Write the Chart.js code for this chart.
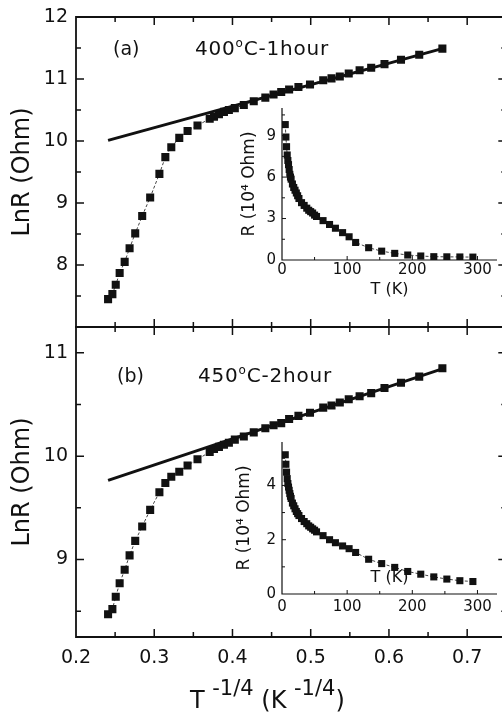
<!DOCTYPE html>
<html><head><meta charset="utf-8">
<script src="https://cdn.jsdelivr.net/npm/chart.js@4.4.1/dist/chart.umd.min.js"></script>
<style>
html,body{margin:0;padding:0;width:502px;height:713px;overflow:hidden;background:#fff;}
canvas{position:absolute;}
.lbl{position:absolute;font-family:'DejaVu Sans';color:#111;white-space:nowrap;}
.sup{position:relative;}
</style></head><body>
<canvas id="mainA" width="512" height="340" style="left:0px;top:0px"></canvas>
<canvas id="mainB" width="512" height="393" style="left:0px;top:320px"></canvas>
<canvas id="insetA" width="274" height="210" style="left:228px;top:95px"></canvas>
<canvas id="insetB" width="274" height="210" style="left:228px;top:425px"></canvas>

<div class="lbl" style="left:113px;top:39px;font-size:19px;line-height:19px">(a)</div>
<div class="lbl" style="left:195px;top:38px;font-size:20px;line-height:20px;letter-spacing:0.8px">400<span class="sup" style="font-size:12px;top:-8px">o</span>C-1hour</div>
<div class="lbl" style="left:117px;top:366px;font-size:19px;line-height:19px">(b)</div>
<div class="lbl" style="left:198px;top:365px;font-size:20px;line-height:20px;letter-spacing:0.8px">450<span class="sup" style="font-size:12px;top:-8px">o</span>C-2hour</div>
<div class="lbl" style="left:190px;top:688px;font-size:24px;line-height:24px">T&nbsp;<span class="sup" style="font-size:21px;top:-13px">-1/4</span> (K <span class="sup" style="font-size:21px;top:-13px">-1/4</span>)</div>

<script>
// ---------- data ----------
const invT = [0.241,0.2465,0.2508,0.2558,0.2622,0.2685,0.2757,0.2846,0.2948,0.3066,0.3142,0.3218,0.332,0.3426,0.3553,0.3709,0.3764,0.3827,0.3891,0.3954,0.403,0.4145,0.4272,0.442,0.4525,0.4623,0.4724,0.4843,0.4991,0.516,0.5266,0.5372,0.5486,0.5625,0.5773,0.5943,0.6154,0.6387,0.6683];
const lnRA = [7.45,7.53,7.68,7.87,8.05,8.27,8.51,8.79,9.09,9.47,9.74,9.90,10.05,10.16,10.25,10.36,10.39,10.43,10.47,10.50,10.53,10.58,10.64,10.70,10.75,10.79,10.83,10.87,10.91,10.98,11.01,11.04,11.09,11.14,11.18,11.24,11.31,11.39,11.49];
const lnRB = [8.47,8.52,8.64,8.77,8.90,9.04,9.18,9.32,9.48,9.65,9.74,9.80,9.85,9.91,9.97,10.04,10.07,10.09,10.11,10.13,10.16,10.19,10.23,10.27,10.30,10.32,10.36,10.39,10.42,10.47,10.49,10.52,10.55,10.58,10.61,10.66,10.71,10.77,10.85];
const fitAX = [0.241, 0.668];
const fitAY = [10.01, 11.49];
const fitBX = [0.241, 0.668];
const fitBY = [9.765, 10.845];

const tempK = [5,6,7,8,9,10,11,12,13,14,16,18,20,22,24,26,30,34,38,41,44,47,50,53,63,73,82,93,103,113,133,153,173,193,213,233,253,273,293];
const resA = [9.8,8.9,8.2,7.6,7.2,6.9,6.55,6.2,6.0,5.85,5.5,5.25,5.05,4.85,4.65,4.45,4.15,3.95,3.75,3.6,3.5,3.4,3.25,3.15,2.85,2.57,2.3,1.98,1.68,1.27,0.89,0.64,0.48,0.36,0.29,0.24,0.23,0.22,0.21];
const resB = [5.13,4.78,4.49,4.25,4.07,3.94,3.82,3.70,3.60,3.52,3.35,3.25,3.14,3.04,2.96,2.89,2.78,2.67,2.59,2.51,2.46,2.40,2.35,2.29,2.15,2.0,1.89,1.77,1.67,1.53,1.28,1.12,0.98,0.83,0.73,0.63,0.55,0.49,0.46];

const mainXTicks = [0.2,0.25,0.3,0.35,0.4,0.45,0.5,0.55,0.6,0.65,0.7,0.75];
const mainAYTicks = [7,7.5,8,8.5,9,9.5,10,10.5,11,11.5,12];
const mainBYTicks = [8.5,9,9.5,10,10.5,11];
const insetXTicks = [0,50,100,150,200,250,300];
const insetAYTicks = [0,1.5,3,4.5,6,7.5,9,10.5];
const insetBYTicks = [0,1,2,3,4,5];

// ---------- helpers ----------
const FAM = 'DejaVu Sans';
const INK = '#111';
Chart.defaults.font.family = FAM;
Chart.defaults.color = INK;

const frameTicks = {
  id: 'frameTicks',
  afterDatasetsDraw(chart, args, o) {
    const {ctx, chartArea: a} = chart;
    const xs = chart.scales.x, ys = chart.scales.y;
    ctx.save();
    ctx.strokeStyle = INK;
    ctx.lineWidth = o.axisWidth;
    ctx.beginPath();
    if (o.box) ctx.rect(a.left, a.top, a.right - a.left, a.bottom - a.top);
    else { ctx.moveTo(a.left, a.top); ctx.lineTo(a.left, a.bottom); ctx.lineTo(a.right, a.bottom); }
    ctx.stroke();
    ctx.lineWidth = o.tickWidth;
    ctx.beginPath();
    xs.ticks.forEach(t => {
      const p = xs.getPixelForValue(t.value);
      if (p <= a.left + 0.5 || p >= a.right - 0.5) return;
      const L = o.xMajor(t.value) ? o.major : o.minor;
      ctx.moveTo(p, a.bottom); ctx.lineTo(p, a.bottom - L);
      if (o.box) { ctx.moveTo(p, a.top); ctx.lineTo(p, a.top + L); }
    });
    ys.ticks.forEach(t => {
      const p = ys.getPixelForValue(t.value);
      if (p <= a.top + 0.5 || p >= a.bottom - 0.5) return;
      const L = o.yMajor(t.value) ? o.major : o.minor;
      ctx.moveTo(a.left, p); ctx.lineTo(a.left + L, p);
      if (o.box) { ctx.moveTo(a.right, p); ctx.lineTo(a.right - L, p); }
    });
    ctx.stroke();
    ctx.restore();
  }
};

const pts = (xs, ys) => xs.map((x, i) => ({x, y: ys[i]}));
const isMult = (v, m) => Math.abs(v / m - Math.round(v / m)) < 1e-6;

function mainChart(id, yVals, fitX, fitY, yMin, yMax, yTicks, showX, padTop, xH) {
  return new Chart(document.getElementById(id), {
    type: 'scatter',
    data: { datasets: [
      { data: pts(fitX, fitY), showLine: true, borderColor: INK, borderWidth: 3, pointRadius: 0 },
      { data: pts(invT, yVals), showLine: true, borderColor: '#444', borderWidth: 1, borderDash: [3, 2],
        pointStyle: 'rect', pointRadius: 5.7, pointHoverRadius: 5.7, pointBackgroundColor: INK, pointBorderWidth: 0 }
    ]},
    options: {
      responsive: false, animation: false, devicePixelRatio: 1, events: [],
      layout: { padding: { left: 0, top: padTop, right: 3, bottom: 0 } },
      plugins: { legend: { display: false }, tooltip: { enabled: false },
        frameTicks: { box: true, axisWidth: 1.8, tickWidth: 1.5, major: 8, minor: 5,
          xMajor: v => isMult(v, 0.1), yMajor: v => Number.isInteger(v) } },
      scales: {
        x: { type: 'linear', min: 0.2, max: 0.75,
          grid: { display: false, drawTicks: false }, border: { display: false },
          afterBuildTicks: s => { s.ticks = mainXTicks.map(v => ({value: v})); },
          afterFit: s => { s.height = xH; s.paddingLeft = 0; s.paddingRight = 0; },
          ticks: { display: showX, autoSkip: false, maxRotation: 0, padding: 10, color: INK,
            font: { size: 19 }, callback: v => (isMult(v, 0.1) && v < 0.72) ? v.toFixed(1) : '' } },
        y: { type: 'linear', min: yMin, max: yMax,
          grid: { display: false, drawTicks: false }, border: { display: false },
          afterBuildTicks: s => { s.ticks = yTicks.map(v => ({value: v})); },
          afterFit: s => { s.width = 76; s.paddingTop = 0; s.paddingBottom = 0; },
          ticks: { autoSkip: false, padding: 8, color: INK, font: { size: 19 },
            callback: v => (Number.isInteger(v) && v !== 7) ? String(v) : '' },
          title: { display: true, text: 'LnR (Ohm)', color: INK, font: { size: 24 }, padding: { top: 8.6, bottom: 0 } } }
      }
    },
    plugins: [frameTicks]
  });
}

function insetChart(id, yVals, yMax, yTicks, yLabStep, padTop, xH, xPad, tPadBottom, yTitlePad) {
  return new Chart(document.getElementById(id), {
    type: 'scatter',
    data: { datasets: [
      { data: pts(tempK, yVals), showLine: true, borderColor: '#444', borderWidth: 1, borderDash: [3, 2],
        pointStyle: 'rect', pointRadius: 5, pointHoverRadius: 5, pointBackgroundColor: INK, pointBorderWidth: 0 }
    ]},
    options: {
      responsive: false, animation: false, devicePixelRatio: 1, events: [],
      layout: { padding: { left: 0, top: padTop, right: 2, bottom: 0 } },
      plugins: { legend: { display: false }, tooltip: { enabled: false },
        frameTicks: { box: false, axisWidth: 1.2, tickWidth: 1, major: 4, minor: 3,
          xMajor: v => isMult(v, 100), yMajor: v => isMult(v, yLabStep) } },
      scales: {
        x: { type: 'linear', min: 0, max: 330,
          grid: { display: false, drawTicks: false }, border: { display: false },
          afterBuildTicks: s => { s.ticks = insetXTicks.map(v => ({value: v})); },
          afterFit: s => { s.height = xH; s.paddingLeft = 0; s.paddingRight = 0; },
          ticks: { autoSkip: false, maxRotation: 0, padding: xPad, color: INK, font: { size: 15 },
            callback: v => isMult(v, 100) ? String(v) : '' },
          title: { display: true, text: 'T (K)', color: INK, font: { size: 16 }, padding: { top: 0, bottom: tPadBottom } } },
        y: { type: 'linear', min: 0, max: yMax,
          grid: { display: false, drawTicks: false }, border: { display: false },
          afterBuildTicks: s => { s.ticks = yTicks.map(v => ({value: v})); },
          afterFit: s => { s.width = 54; s.paddingTop = 0; s.paddingBottom = 0; },
          ticks: { autoSkip: false, padding: 6, color: INK, font: { size: 15 },
            callback: v => isMult(v, yLabStep) ? String(v) : '' },
          title: { display: true, text: 'R (10⁴ Ohm)', color: INK, font: { size: 17 }, padding: { top: yTitlePad, bottom: 0 } } }
      }
    },
    plugins: [frameTicks]
  });
}

mainChart('mainA', lnRA, fitAX, fitAY, 7, 12, mainAYTicks, false, 17, 13);
mainChart('mainB', lnRB, fitBX, fitBY, 8.25, 11.25, mainBYTicks, true, 7, 76);
insetChart('insetA', resA, 11, insetAYTicks, 3, 13, 45, 1, 5.4, 11.8);
insetChart('insetB', resB, 5.6, insetBYTicks, 2, 17, 41, 4, 47.4, 6.8);
</script>
</body></html>
